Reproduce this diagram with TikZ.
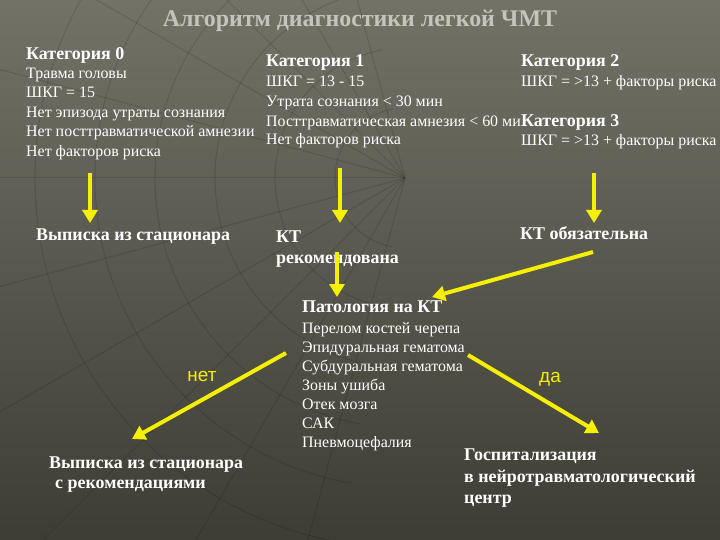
\documentclass[tikz,border=0pt]{standalone}
\usepackage{fontspec}
\setmainfont{Liberation Serif}
\newfontfamily\arialf{Liberation Sans}
\usetikzlibrary{arrows.meta}
\definecolor{bgtop}{HTML}{727267}
\definecolor{bgbot}{HTML}{3D3D35}
\definecolor{titlegray}{HTML}{C4C4BC}
\definecolor{arrowyellow}{HTML}{F5F000}
\begin{document}
\begin{tikzpicture}[x=1bp,y=-1bp,
  txt/.style={anchor=base west, inner sep=0pt, text=white, font=\fontsize{16}{19}\selectfont},
  hd/.style={anchor=base west, inner sep=0pt, text=white, font=\fontsize{18}{21}\selectfont\bfseries},
  yarrow/.style={draw=arrowyellow, line width=4bp, -{Triangle[width=15bp,length=13bp]}},
  lbl/.style={anchor=center, inner sep=0pt, text=arrowyellow, font=\fontsize{19}{22}\selectfont\arialf},
  gridline/.style={draw=black, opacity=0.12, line width=1bp}]
\shade[top color=bgtop, bottom color=bgbot] (0,0) rectangle (720,540);
\useasboundingbox (0,0) rectangle (720,540);
% faint globe texture
\foreach \a in {105,120,...,255} {
  \draw[gridline] (405,178) -- ++(\a:-1*-560);
}
\foreach \r in {70,130,190,250,310,370} {
  \draw[gridline] (405,178) ++(100:\r) arc[start angle=100, end angle=260, radius=\r];
}
% title
\node[anchor=base, inner sep=0pt, text=titlegray, font=\fontsize{24}{28}\selectfont\bfseries] (title) at (360,27) {Алгоритм диагностики легкой ЧМТ};
% category 0
\node[hd] (c0h) at (26,60) {Категория 0};
\node[txt] (c0a) at (26,79) {Травма головы};
\node[txt] (c0b) at (26,98) {ШКГ = 15};
\node[txt] (c0c) at (26,118) {Нет эпизода утраты сознания};
\node[txt] (c0d) at (26,137) {Нет посттравматической амнезии};
\node[txt] (c0e) at (26,157) {Нет факторов риска};
% category 1
\node[hd] (c1h) at (266,67) {Категория 1};
\node[txt] (c1a) at (266,87) {ШКГ = 13 - 15};
\node[txt] (c1b) at (266,107) {Утрата сознания < 30 мин};
\node[txt] (c1c) at (266,127) {Посттравматическая амнезия < 60 ми};
\node[txt] (c1d) at (266,145) {Нет факторов риска};
% category 2
\node[hd] (c2h) at (521,67) {Категория 2};
\node[txt] (c2a) at (521,87) {ШКГ = >13 + факторы риска};
% category 3
\node[hd] (c3h) at (521,127) {Категория 3};
\node[txt] (c3a) at (521,146) {ШКГ = >13 + факторы риска};
% outcomes
\node[hd] (vyp1) at (36,241) {Выписка из стационара};
\node[hd] (kt1) at (276,243) {КТ};
\node[hd] (kt1b) at (276,264) {рекомендована};
\node[hd] (kt2) at (520,240) {КТ обязательна};
\node[hd] (pat) at (302,312) {Патология на КТ};
\node[txt] (p1) at (302,333) {Перелом костей черепа};
\node[txt] (p2) at (302,352) {Эпидуральная гематома};
\node[txt] (p3) at (302,371) {Субдуральная гематома};
\node[txt] (p4) at (302,390) {Зоны ушиба};
\node[txt] (p5) at (302,409) {Отек мозга};
\node[txt] (p6) at (302,428) {САК};
\node[txt] (p7) at (302,447) {Пневмоцефалия};
\node[hd] (vyp2) at (49,468) {Выписка из стационара};
\node[hd] (vyp2b) at (55,488) {с рекомендациями};
\node[hd] (hosp) at (464,460) {Госпитализация};
\node[hd] (hospb) at (464,482) {в нейротравматологический};
\node[hd] (hospc) at (464,503) {центр};
% labels
\node[lbl] (net) at (202,376) {нет};
\node[lbl] (da) at (550,379) {да};
% arrow end points
\coordinate (a0s) at (90,173);  \coordinate (a0e) at (90,223);
\coordinate (a1s) at (340,168); \coordinate (a1e) at (340,223);
\coordinate (a2s) at (594,173); \coordinate (a2e) at (594,223);
\coordinate (a3s) at (337,252); \coordinate (a3e) at (337,297);
\coordinate (a4s) at (593,252); \coordinate (a4e) at (432,297);
\coordinate (a5s) at (286,353); \coordinate (a5e) at (132,439);
\coordinate (a6s) at (468,355); \coordinate (a6e) at (599,433);
\draw[yarrow] (a0s) -- (a0e);
\draw[yarrow] (a1s) -- (a1e);
\draw[yarrow] (a2s) -- (a2e);
\draw[yarrow] (a3s) -- (a3e);
\draw[yarrow] (a4s) -- (a4e);
\draw[yarrow] (a5s) -- (a5e);
\draw[yarrow] (a6s) -- (a6e);
\end{tikzpicture}
\end{document}
